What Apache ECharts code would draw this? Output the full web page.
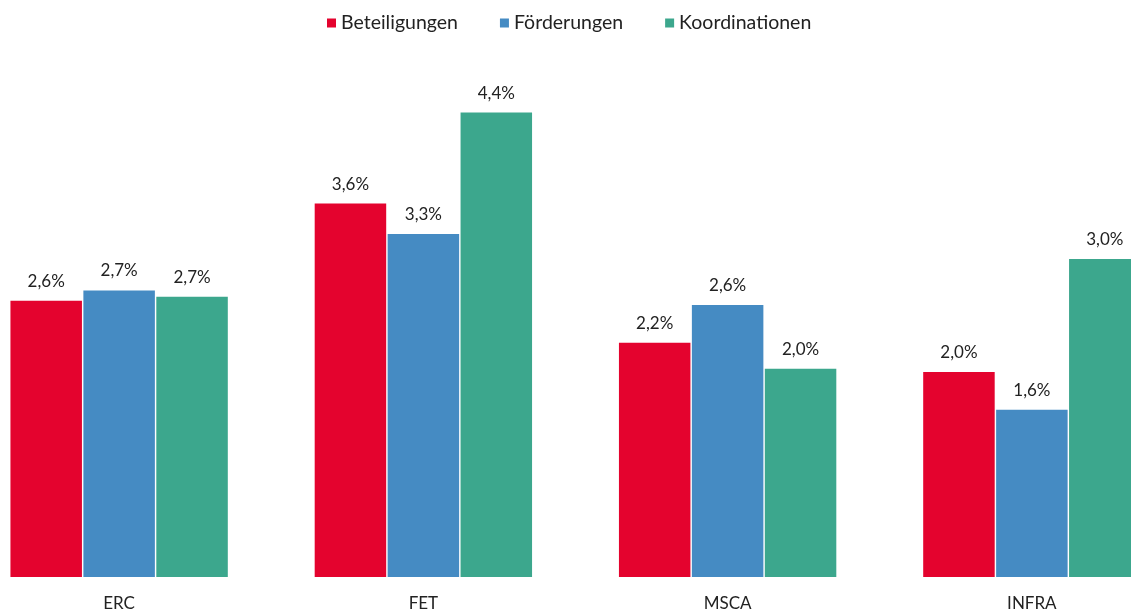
<!DOCTYPE html>
<html>
<head>
<meta charset="utf-8">
<script src="https://cdn.jsdelivr.net/npm/echarts@6/dist/echarts.min.js"></script>
<style>
  html, body { margin: 0; padding: 0; background: #fff; }
  #chart { width: 1131px; height: 614px; }
</style>
</head>
<body>
<div id="chart"></div>
<script>
// Daten (Anteile in %)
var categories = ['ERC', 'FET', 'MSCA', 'INFRA'];
var seriesNames = ['Beteiligungen', 'Förderungen', 'Koordinationen'];
var beteiligungen = [2.64, 3.57, 2.24, 1.96];
var foerderungen = [2.74, 3.28, 2.60, 1.60];
var koordinationen = [2.68, 4.44, 1.99, 3.04];
var colors = ['#E4032E', '#458BC3', '#3CA78D'];

var fmt = function (p) {
  return p.value.toFixed(1).replace('.', ',') + '%';
};

function makeSeries(name, data, color) {
  return {
    name: name,
    type: 'bar',
    data: data,
    barWidth: 71.5,
    barGap: '2%',
    itemStyle: { color: color },
    label: {
      show: true,
      position: 'top',
      distance: 11,
      formatter: fmt,
      fontFamily: 'Lato',
      fontSize: 17,
      color: '#222'
    }
  };
}

var myChart = echarts.init(document.getElementById('chart'));
myChart.setOption({
  animation: false,
  color: colors,
  textStyle: { fontFamily: 'Lato' },
  legend: {
    left: 322,
    top: 8,
    icon: 'rect',
    itemWidth: 9,
    itemHeight: 9,
    itemGap: 42,
    textStyle: { fontSize: 19.5, color: '#222', fontFamily: 'Lato' },
    data: seriesNames
  },
  grid: { left: -33, width: 1217, top: 54, height: 523, outerBoundsMode: 'none', containLabel: false },
  xAxis: {
    type: 'category',
    data: categories,
    axisLine: { show: false },
    axisTick: { show: false },
    axisLabel: { margin: 18, fontSize: 17, color: '#222', fontFamily: 'Lato' }
  },
  yAxis: {
    type: 'value',
    min: 0,
    max: 5,
    show: false,
    splitLine: { show: false }
  },
  series: [
    makeSeries(seriesNames[0], beteiligungen, colors[0]),
    makeSeries(seriesNames[1], foerderungen, colors[1]),
    makeSeries(seriesNames[2], koordinationen, colors[2])
  ]
});
</script>
</body>
</html>
